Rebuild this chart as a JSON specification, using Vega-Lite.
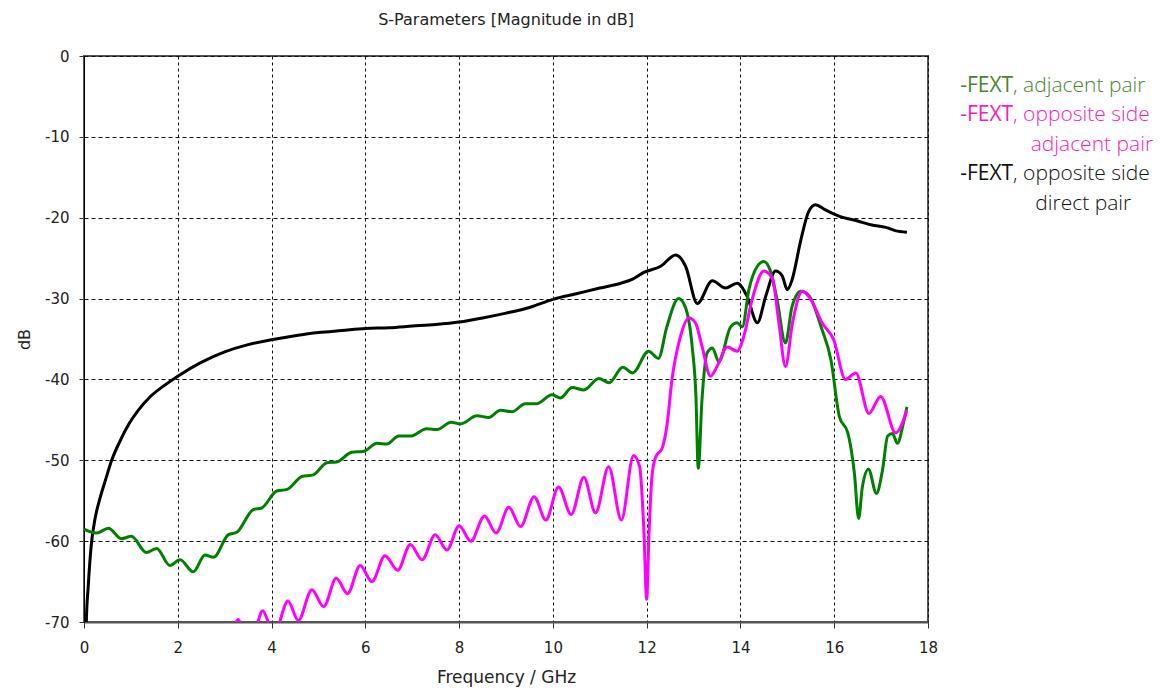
{
  "$schema": "https://vega.github.io/schema/vega-lite/v6.json",
  "width": 844,
  "height": 566,
  "autosize": {"type": "none"},
  "padding": {"left": 84, "top": 56, "right": 235, "bottom": 69},
  "background": "white",
  "title": {"text": "S-Parameters [Magnitude in dB]", "font": "DejaVu Sans", "fontSize": 16, "fontWeight": "normal", "color": "#222", "frame": "group", "anchor": "middle", "baseline": "alphabetic", "offset": 8},
  "config": {
    "view": {"stroke": "#555", "strokeWidth": 2},
    "axis": {"labelFont": "DejaVu Sans", "labelFontSize": 15, "labelColor": "#222", "titleFont": "DejaVu Sans", "titleFontSize": 16, "titleFontWeight": "normal", "titleColor": "#222", "gridColor": "#111", "gridOpacity": 1, "gridWidth": 1, "tickColor": "#333", "tickWidth": 1, "labelExpr": "'' + datum.value"}
  },
  "datasets": {
    "curves": [
      {"series": "direct", "f": 0.03, "dB": -78},
      {"series": "direct", "f": 0.05, "dB": -69.9},
      {"series": "direct", "f": 0.09, "dB": -65.6},
      {"series": "direct", "f": 0.16, "dB": -60.2},
      {"series": "direct", "f": 0.23, "dB": -57.4},
      {"series": "direct", "f": 0.34, "dB": -54.7},
      {"series": "direct", "f": 0.45, "dB": -52.6},
      {"series": "direct", "f": 0.59, "dB": -50.0},
      {"series": "direct", "f": 0.77, "dB": -47.6},
      {"series": "direct", "f": 0.97, "dB": -45.4},
      {"series": "direct", "f": 1.16, "dB": -43.8},
      {"series": "direct", "f": 1.4, "dB": -42.2},
      {"series": "direct", "f": 1.7, "dB": -40.8},
      {"series": "direct", "f": 2.0, "dB": -39.6},
      {"series": "direct", "f": 2.5, "dB": -37.9},
      {"series": "direct", "f": 3.0, "dB": -36.6},
      {"series": "direct", "f": 3.5, "dB": -35.7},
      {"series": "direct", "f": 4.0, "dB": -35.1},
      {"series": "direct", "f": 4.5, "dB": -34.6},
      {"series": "direct", "f": 5.0, "dB": -34.2},
      {"series": "direct", "f": 5.5, "dB": -33.95},
      {"series": "direct", "f": 6.0, "dB": -33.7},
      {"series": "direct", "f": 6.5, "dB": -33.6},
      {"series": "direct", "f": 7.0, "dB": -33.4},
      {"series": "direct", "f": 7.5, "dB": -33.2},
      {"series": "direct", "f": 8.0, "dB": -32.9},
      {"series": "direct", "f": 8.5, "dB": -32.4},
      {"series": "direct", "f": 9.0, "dB": -31.8},
      {"series": "direct", "f": 9.5, "dB": -31.1},
      {"series": "direct", "f": 10.0, "dB": -30.1},
      {"series": "direct", "f": 10.5, "dB": -29.4},
      {"series": "direct", "f": 11.0, "dB": -28.7},
      {"series": "direct", "f": 11.45, "dB": -28.1},
      {"series": "direct", "f": 11.7, "dB": -27.6},
      {"series": "direct", "f": 11.93, "dB": -26.8},
      {"series": "direct", "f": 12.3, "dB": -26.0},
      {"series": "direct", "f": 12.62, "dB": -24.6},
      {"series": "direct", "f": 12.83, "dB": -26.0},
      {"series": "direct", "f": 13.08, "dB": -30.6},
      {"series": "direct", "f": 13.4, "dB": -27.8},
      {"series": "direct", "f": 13.68, "dB": -28.7},
      {"series": "direct", "f": 13.93, "dB": -28.1},
      {"series": "direct", "f": 14.14, "dB": -29.7},
      {"series": "direct", "f": 14.36, "dB": -33.0},
      {"series": "direct", "f": 14.54, "dB": -29.7},
      {"series": "direct", "f": 14.75, "dB": -26.6},
      {"series": "direct", "f": 14.89, "dB": -27.2},
      {"series": "direct", "f": 15.0, "dB": -28.9},
      {"series": "direct", "f": 15.1, "dB": -27.7},
      {"series": "direct", "f": 15.29, "dB": -22.7},
      {"series": "direct", "f": 15.45, "dB": -19.3},
      {"series": "direct", "f": 15.6, "dB": -18.4},
      {"series": "direct", "f": 15.8, "dB": -19.0},
      {"series": "direct", "f": 16.1, "dB": -19.8},
      {"series": "direct", "f": 16.5, "dB": -20.4},
      {"series": "direct", "f": 16.8, "dB": -20.9},
      {"series": "direct", "f": 17.1, "dB": -21.2},
      {"series": "direct", "f": 17.3, "dB": -21.6},
      {"series": "direct", "f": 17.55, "dB": -21.8},

      {"series": "adjacent", "f": 0.0, "dB": -58.5},
      {"series": "adjacent", "f": 0.27, "dB": -59.0},
      {"series": "adjacent", "f": 0.52, "dB": -58.4},
      {"series": "adjacent", "f": 0.8, "dB": -59.7},
      {"series": "adjacent", "f": 1.01, "dB": -59.4},
      {"series": "adjacent", "f": 1.33, "dB": -61.4},
      {"series": "adjacent", "f": 1.55, "dB": -60.9},
      {"series": "adjacent", "f": 1.83, "dB": -63.0},
      {"series": "adjacent", "f": 2.05, "dB": -62.3},
      {"series": "adjacent", "f": 2.33, "dB": -63.8},
      {"series": "adjacent", "f": 2.58, "dB": -61.7},
      {"series": "adjacent", "f": 2.76, "dB": -62.0},
      {"series": "adjacent", "f": 3.08, "dB": -59.2},
      {"series": "adjacent", "f": 3.26, "dB": -58.9},
      {"series": "adjacent", "f": 3.61, "dB": -56.1},
      {"series": "adjacent", "f": 3.79, "dB": -55.9},
      {"series": "adjacent", "f": 4.11, "dB": -53.8},
      {"series": "adjacent", "f": 4.33, "dB": -53.6},
      {"series": "adjacent", "f": 4.65, "dB": -52.0},
      {"series": "adjacent", "f": 4.89, "dB": -51.8},
      {"series": "adjacent", "f": 5.18, "dB": -50.3},
      {"series": "adjacent", "f": 5.39, "dB": -50.2},
      {"series": "adjacent", "f": 5.71, "dB": -49.0},
      {"series": "adjacent", "f": 5.96, "dB": -48.9},
      {"series": "adjacent", "f": 6.25, "dB": -47.9},
      {"series": "adjacent", "f": 6.46, "dB": -48.0},
      {"series": "adjacent", "f": 6.71, "dB": -47.0},
      {"series": "adjacent", "f": 6.96, "dB": -47.0},
      {"series": "adjacent", "f": 7.31, "dB": -46.1},
      {"series": "adjacent", "f": 7.53, "dB": -46.2},
      {"series": "adjacent", "f": 7.83, "dB": -45.3},
      {"series": "adjacent", "f": 8.03, "dB": -45.5},
      {"series": "adjacent", "f": 8.38, "dB": -44.5},
      {"series": "adjacent", "f": 8.63, "dB": -44.7},
      {"series": "adjacent", "f": 8.88, "dB": -43.8},
      {"series": "adjacent", "f": 9.13, "dB": -44.0},
      {"series": "adjacent", "f": 9.41, "dB": -43.0},
      {"series": "adjacent", "f": 9.66, "dB": -43.0},
      {"series": "adjacent", "f": 9.98, "dB": -41.9},
      {"series": "adjacent", "f": 10.16, "dB": -42.3},
      {"series": "adjacent", "f": 10.41, "dB": -41.0},
      {"series": "adjacent", "f": 10.66, "dB": -41.3},
      {"series": "adjacent", "f": 10.98, "dB": -39.9},
      {"series": "adjacent", "f": 11.2, "dB": -40.4},
      {"series": "adjacent", "f": 11.49, "dB": -38.5},
      {"series": "adjacent", "f": 11.7, "dB": -39.2},
      {"series": "adjacent", "f": 12.04, "dB": -36.5},
      {"series": "adjacent", "f": 12.25, "dB": -37.4},
      {"series": "adjacent", "f": 12.43, "dB": -33.5},
      {"series": "adjacent", "f": 12.68, "dB": -30.0},
      {"series": "adjacent", "f": 12.82, "dB": -31.0},
      {"series": "adjacent", "f": 12.97, "dB": -35.9},
      {"series": "adjacent", "f": 13.05, "dB": -42.0},
      {"series": "adjacent", "f": 13.1, "dB": -51.0},
      {"series": "adjacent", "f": 13.18, "dB": -42.5},
      {"series": "adjacent", "f": 13.29, "dB": -36.7},
      {"series": "adjacent", "f": 13.4, "dB": -36.1},
      {"series": "adjacent", "f": 13.54, "dB": -37.8},
      {"series": "adjacent", "f": 13.79, "dB": -33.5},
      {"series": "adjacent", "f": 13.93, "dB": -33.0},
      {"series": "adjacent", "f": 14.04, "dB": -33.5},
      {"series": "adjacent", "f": 14.18, "dB": -28.9},
      {"series": "adjacent", "f": 14.36, "dB": -26.0},
      {"series": "adjacent", "f": 14.5, "dB": -25.4},
      {"series": "adjacent", "f": 14.64, "dB": -26.6},
      {"series": "adjacent", "f": 14.78, "dB": -30.1},
      {"series": "adjacent", "f": 14.96, "dB": -35.5},
      {"series": "adjacent", "f": 15.1, "dB": -31.0},
      {"series": "adjacent", "f": 15.29, "dB": -29.1},
      {"series": "adjacent", "f": 15.47, "dB": -29.7},
      {"series": "adjacent", "f": 15.72, "dB": -33.5},
      {"series": "adjacent", "f": 15.93, "dB": -37.6},
      {"series": "adjacent", "f": 16.11, "dB": -44.6},
      {"series": "adjacent", "f": 16.29, "dB": -46.6},
      {"series": "adjacent", "f": 16.43, "dB": -51.6},
      {"series": "adjacent", "f": 16.52, "dB": -57.2},
      {"series": "adjacent", "f": 16.6, "dB": -53.3},
      {"series": "adjacent", "f": 16.73, "dB": -51.1},
      {"series": "adjacent", "f": 16.9, "dB": -54.1},
      {"series": "adjacent", "f": 17.03, "dB": -51.2},
      {"series": "adjacent", "f": 17.14, "dB": -47.0},
      {"series": "adjacent", "f": 17.24, "dB": -46.7},
      {"series": "adjacent", "f": 17.35, "dB": -47.9},
      {"series": "adjacent", "f": 17.46, "dB": -45.8},
      {"series": "adjacent", "f": 17.55, "dB": -43.4},

      {"series": "oppadj", "f": 3.15, "dB": -72.0},
      {"series": "oppadj", "f": 3.29, "dB": -69.7},
      {"series": "oppadj", "f": 3.45, "dB": -72.0},
      {"series": "oppadj", "f": 3.65, "dB": -71.0},
      {"series": "oppadj", "f": 3.81, "dB": -68.6},
      {"series": "oppadj", "f": 3.97, "dB": -70.5},
      {"series": "oppadj", "f": 4.08, "dB": -71.0},
      {"series": "oppadj", "f": 4.35, "dB": -67.4},
      {"series": "oppadj", "f": 4.57, "dB": -69.8},
      {"series": "oppadj", "f": 4.86, "dB": -66.0},
      {"series": "oppadj", "f": 5.11, "dB": -68.1},
      {"series": "oppadj", "f": 5.38, "dB": -64.6},
      {"series": "oppadj", "f": 5.62, "dB": -66.5},
      {"series": "oppadj", "f": 5.89, "dB": -63.0},
      {"series": "oppadj", "f": 6.14, "dB": -65.0},
      {"series": "oppadj", "f": 6.42, "dB": -61.8},
      {"series": "oppadj", "f": 6.69, "dB": -63.6},
      {"series": "oppadj", "f": 6.96, "dB": -60.4},
      {"series": "oppadj", "f": 7.21, "dB": -62.3},
      {"series": "oppadj", "f": 7.49, "dB": -59.2},
      {"series": "oppadj", "f": 7.74, "dB": -61.1},
      {"series": "oppadj", "f": 8.0, "dB": -58.1},
      {"series": "oppadj", "f": 8.25, "dB": -60.0},
      {"series": "oppadj", "f": 8.54, "dB": -56.9},
      {"series": "oppadj", "f": 8.79, "dB": -59.0},
      {"series": "oppadj", "f": 9.06, "dB": -55.8},
      {"series": "oppadj", "f": 9.31, "dB": -58.2},
      {"series": "oppadj", "f": 9.6, "dB": -54.5},
      {"series": "oppadj", "f": 9.85, "dB": -57.4},
      {"series": "oppadj", "f": 10.12, "dB": -53.3},
      {"series": "oppadj", "f": 10.39, "dB": -56.7},
      {"series": "oppadj", "f": 10.66, "dB": -52.1},
      {"series": "oppadj", "f": 10.91, "dB": -56.5},
      {"series": "oppadj", "f": 11.19, "dB": -50.8},
      {"series": "oppadj", "f": 11.46, "dB": -57.4},
      {"series": "oppadj", "f": 11.72, "dB": -49.4},
      {"series": "oppadj", "f": 11.85, "dB": -50.8},
      {"series": "oppadj", "f": 11.94, "dB": -58.6},
      {"series": "oppadj", "f": 12.0, "dB": -67.2},
      {"series": "oppadj", "f": 12.05, "dB": -59.0},
      {"series": "oppadj", "f": 12.12, "dB": -51.6},
      {"series": "oppadj", "f": 12.2, "dB": -49.5},
      {"series": "oppadj", "f": 12.33, "dB": -48.5},
      {"series": "oppadj", "f": 12.43, "dB": -45.8},
      {"series": "oppadj", "f": 12.54, "dB": -40.0},
      {"series": "oppadj", "f": 12.72, "dB": -34.7},
      {"series": "oppadj", "f": 12.9, "dB": -32.4},
      {"series": "oppadj", "f": 13.04, "dB": -33.0},
      {"series": "oppadj", "f": 13.18, "dB": -35.9},
      {"series": "oppadj", "f": 13.36, "dB": -39.6},
      {"series": "oppadj", "f": 13.5, "dB": -38.4},
      {"series": "oppadj", "f": 13.72, "dB": -36.0},
      {"series": "oppadj", "f": 13.93, "dB": -36.5},
      {"series": "oppadj", "f": 14.07, "dB": -34.7},
      {"series": "oppadj", "f": 14.25, "dB": -30.1},
      {"series": "oppadj", "f": 14.5, "dB": -26.6},
      {"series": "oppadj", "f": 14.68, "dB": -27.5},
      {"series": "oppadj", "f": 14.82, "dB": -33.0},
      {"series": "oppadj", "f": 14.96, "dB": -38.4},
      {"series": "oppadj", "f": 15.11, "dB": -33.0},
      {"series": "oppadj", "f": 15.32, "dB": -29.1},
      {"series": "oppadj", "f": 15.49, "dB": -30.0},
      {"series": "oppadj", "f": 15.74, "dB": -33.0},
      {"series": "oppadj", "f": 15.99, "dB": -35.1},
      {"series": "oppadj", "f": 16.24, "dB": -40.0},
      {"series": "oppadj", "f": 16.46, "dB": -39.2},
      {"series": "oppadj", "f": 16.74, "dB": -44.2},
      {"series": "oppadj", "f": 16.99, "dB": -42.1},
      {"series": "oppadj", "f": 17.31, "dB": -46.6},
      {"series": "oppadj", "f": 17.55, "dB": -43.8}
    ],
    "legend": [
      {"series": "adjacent", "line": 1, "lead": "-FEXT", "rest": ", adjacent pair"},
      {"series": "oppadj", "line": 2, "lead": "-FEXT", "rest": ", opposite side"},
      {"series": "oppadj", "line": 3, "rest": "adjacent pair"},
      {"series": "direct", "line": 4, "lead": "-FEXT", "rest": ", opposite side"},
      {"series": "direct", "line": 5, "rest": "direct pair"}
    ]
  },
  "layer": [
    {
      "data": {"name": "curves"},
      "mark": {"type": "line", "clip": true, "strokeWidth": 3, "interpolate": "monotone"},
      "encoding": {
        "x": {"field": "f", "type": "quantitative", "scale": {"domain": [0, 18], "nice": false, "zero": false},
              "axis": {"title": "Frequency / GHz", "values": [0, 2, 4, 6, 8, 10, 12, 14, 16, 18], "tickSize": 6, "labelPadding": 12, "titlePadding": 14, "titleFontSize": 17, "gridDash": [3, 3], "domainColor": "#555", "domainWidth": 2, "labelFlush": false}},
        "y": {"field": "dB", "type": "quantitative", "scale": {"domain": [-70, 0], "nice": false, "zero": false},
              "axis": {"title": "dB", "values": [-70, -60, -50, -40, -30, -20, -10, 0], "tickSize": 5, "labelPadding": 10, "titlePadding": 12, "gridDash": [4, 3], "domainColor": "#000", "domainWidth": 1}},
        "color": {"field": "series", "type": "nominal", "scale": {"domain": ["direct", "adjacent", "oppadj"], "range": ["#000000", "#008000", "#ff00ff"]}, "legend": null}
      }
    },
    {
      "data": {"name": "legend"},
      "encoding": {
        "y": {"field": "line", "type": "quantitative", "scale": {"domain": [-0.207, 18.93], "reverse": true, "nice": false, "zero": false}, "axis": null},
        "color": {"field": "series", "type": "nominal", "scale": {"domain": ["direct", "adjacent", "oppadj"], "range": ["#111111", "#4a8530", "#f81cb8"]}, "legend": null}
      },
      "layer": [
        {"transform": [{"filter": "datum.lead"}], "mark": {"type": "text", "align": "right", "baseline": "alphabetic", "font": "Open Sans", "fontSize": 21, "fontWeight": 500},
         "encoding": {"x": {"datum": 19.815, "type": "quantitative"}, "text": {"field": "lead"}}},
        {"transform": [{"filter": "datum.lead"}], "mark": {"type": "text", "align": "left", "baseline": "alphabetic", "font": "Open Sans", "fontSize": 21, "fontWeight": 300},
         "encoding": {"x": {"datum": 19.815, "type": "quantitative"}, "text": {"field": "rest"}}},
        {"transform": [{"filter": "datum.line == 3"}], "mark": {"type": "text", "align": "right", "baseline": "alphabetic", "font": "Open Sans", "fontSize": 21, "fontWeight": 300},
         "encoding": {"x": {"datum": 22.8, "type": "quantitative"}, "text": {"field": "rest"}}},
        {"transform": [{"filter": "datum.line == 5"}], "mark": {"type": "text", "align": "center", "baseline": "alphabetic", "font": "Open Sans", "fontSize": 21, "fontWeight": 300},
         "encoding": {"x": {"datum": 21.31, "type": "quantitative"}, "text": {"field": "rest"}}}
      ]
    }
  ],
  "resolve": {"scale": {"y": "independent", "color": "independent"}}
}
